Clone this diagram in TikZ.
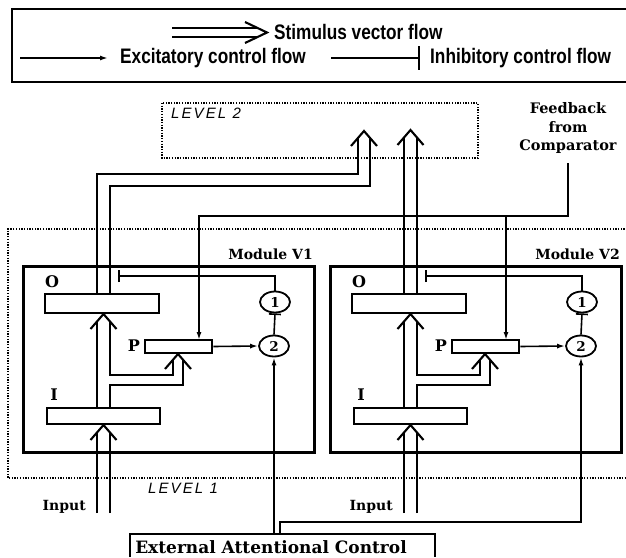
\documentclass[tikz,border=0pt]{standalone}
\usepackage{fontspec}
\setmainfont{DejaVu Serif}
\newfontfamily\legfont[FakeStretch=0.82]{Liberation Sans}
\newfontfamily\lvlfont[LetterSpace=14]{Liberation Sans}
\usetikzlibrary{arrows.meta,shapes.geometric}
\tikzset{
  ctl/.style={line width=1.6pt},
  exc/.style={ctl,-{Latex[length=8pt,width=5pt]}},
  inh/.style={ctl,-{Bar[width=12pt,line width=1.6pt]}},
  stim/.style={line width=2.1pt,line join=miter},
  modbox/.style={draw,line width=3.2pt,inner sep=0pt},
  barbox/.style={draw,line width=2.6pt,inner sep=0pt},
  unitnode/.style={draw,ellipse,line width=1.8pt,minimum width=30pt,minimum height=21pt,inner sep=0pt,font=\bfseries\fontsize{13.5}{13.5}\selectfont},
  lbl/.style={inner sep=0pt,font=\bfseries\fontsize{16}{16}\selectfont},
  modlbl/.style={inner sep=0pt,font=\bfseries\fontsize{14}{14}\selectfont},
  leg/.style={inner sep=0pt,anchor=west,font=\legfont\bfseries\fontsize{21}{21}\selectfont},
  lvl/.style={inner sep=0pt,anchor=west,font=\lvlfont\itshape\fontsize{15}{15}\selectfont},
  dotbox/.style={line width=1.4pt,dash pattern=on 1.3pt off 1.4pt},
}
\newcommand{\chevup}[2]{\draw[stim] (#1-13,#2+15) -- (#1,#2) -- (#1+13,#2+15);}
\begin{document}
\begin{tikzpicture}[x=1pt,y=-1pt]
\useasboundingbox (0,0) rectangle (626,557);
% legend
\draw[ctl] (626,9) -- (12,9) -- (12,82) -- (626,82);
\draw[stim] (172,28) -- (258,28);
\draw[stim] (172,37) -- (258,37);
\draw[stim] (245,22) -- (267,32.5) -- (245,43);
\node[leg] (lstim) at (274,32) {Stimulus vector flow};
\coordinate (lexA) at (20,58);
\coordinate (lexB) at (108,58);
\draw[exc] (lexA) -- (lexB);
\node[leg] (lexc) at (120,58) {Excitatory control flow};
\coordinate (linA) at (331,58);
\coordinate (linB) at (420,58);
\draw[ctl,-{Bar[width=24pt,line width=1.6pt]}] (linA) -- (linB);
\node[leg] (linh) at (430,58) {Inhibitory control flow};
% level 2
\draw[dotbox] (162,103) rectangle (478,158);
\node[lvl] (lvl2) at (171,113) {LEVEL 2};
% level 1
\draw[dotbox] (630,229) -- (8,229) -- (8,478) -- (630,478);
\node[lvl] (lvl1) at (148,488) {LEVEL 1};
% feedback
\node[inner sep=0pt,align=center,font=\bfseries\fontsize{14.5}{18.5}\selectfont] (fb) at (568,128) {Feedback\\from\\Comparator};
\coordinate (fbtop) at (568,163);
\coordinate (fbjoin) at (506,216);
\draw[exc] (fbtop) -- (568,216) -- (199,216) -- (199,340);
\draw[exc] (fbjoin) -- (506,340);
% modules
\foreach \dx/\m in {0/1,307/2}{
  \node[modbox,minimum width=291pt,minimum height=186pt,anchor=north west] (box\m) at (22+\dx,265) {};
  \node[modlbl,anchor=east] (mod\m) at (313+\dx,254) {Module V\m};
  \node[barbox,minimum width=114pt,minimum height=19pt] (O\m) at (102+\dx,303.5) {};
  \node[barbox,minimum width=113pt,minimum height=16pt] (I\m) at (103.5+\dx,416) {};
  \node[barbox,minimum width=67pt,minimum height=13pt] (P\m) at (178.5+\dx,346.5) {};
  \node[lbl] (Ol\m) at (52+\dx,282) {O};
  \node[lbl] (Il\m) at (54+\dx,395) {I};
  \node[lbl] (Pl\m) at (134+\dx,346) {P};
  \node[unitnode] (ca\m) at (275+\dx,302) {1};
  \node[unitnode] (cb\m) at (274+\dx,346) {2};
  % stimulus: input into I
  \draw[stim] (97+\dx,513) -- (97+\dx,432);
  \draw[stim] (110+\dx,513) -- (110+\dx,432);
  \chevup{103.5+\dx}{425}
  % I to O and P
  \draw[stim] (97+\dx,408) -- (97+\dx,321);
  \draw[stim] (110+\dx,321) -- (110+\dx,375) -- (173+\dx,375) -- (173+\dx,360);
  \draw[stim] (110+\dx,408) -- (110+\dx,385) -- (183+\dx,385) -- (183+\dx,360);
  \chevup{103.5+\dx}{314}
  \chevup{178+\dx}{354}
  % control
  \draw[exc] (P\m.east) -- (cb\m.west);
  \draw[inh] (cb\m.north) -- (ca\m.south);
  \draw[inh] (ca\m.north) |- (118+\dx,276);
  \node[modlbl,anchor=east] (in\m) at (86+\dx,507) {Input};
}
% stimulus to level 2
\draw[stim] (97,294) -- (97,174) -- (358,174) -- (358,138);
\draw[stim] (110,294) -- (110,186) -- (370,186) -- (370,138);
\chevup{364}{131}
\draw[stim] (404,294) -- (404,137);
\draw[stim] (417,294) -- (417,137);
\chevup{410.5}{130}
% external attentional control
\node[inner sep=0pt,font=\bfseries\fontsize{17}{17}\selectfont] (ext) at (271,547) {External Attentional Control};
\draw[line width=1.8pt] (130,557) |- (435,534) -- (435,557);
\coordinate (extA) at (274,534);
\coordinate (extB) at (280,534);
\draw[exc] (extA) -- (cb1.south);
\draw[exc] (extB) -- (280,522) -| (cb2.south);
\end{tikzpicture}
\end{document}
